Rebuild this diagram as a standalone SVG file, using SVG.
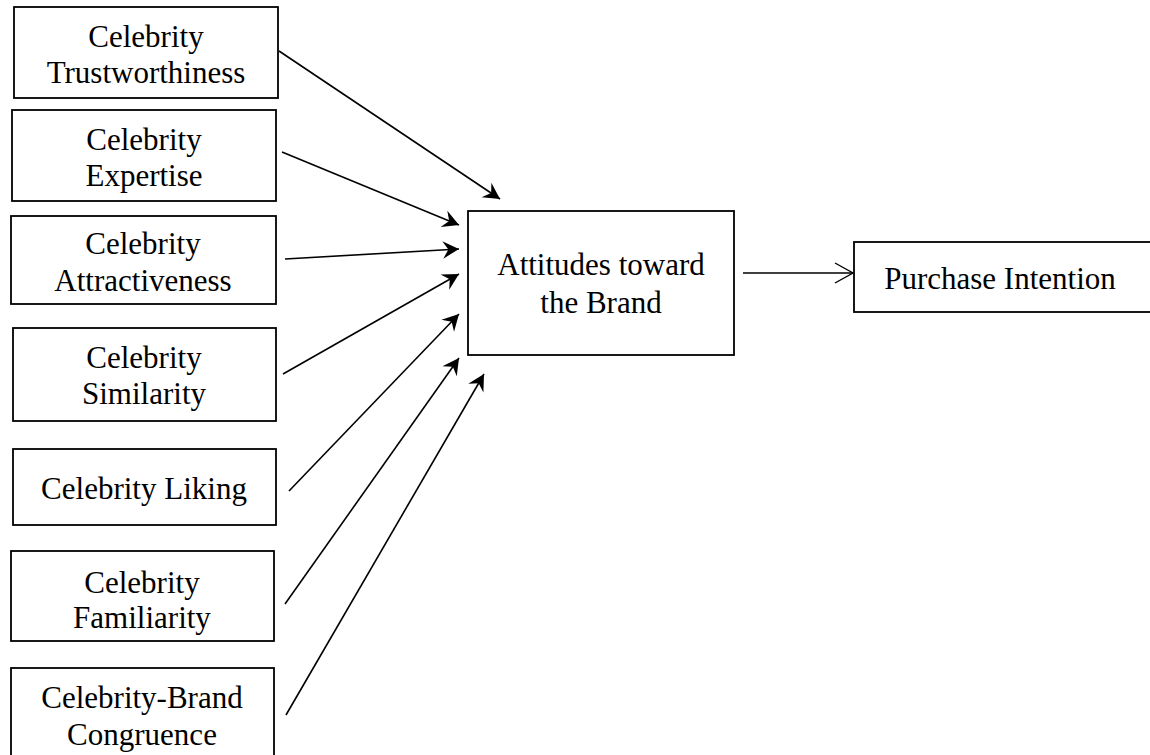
<svg xmlns="http://www.w3.org/2000/svg" width="1150" height="755" viewBox="0 0 1150 755">
<style>
.box{fill:#fff;stroke:#000;stroke-width:1.8}
.t{font-family:"Liberation Serif","Times New Roman",serif;font-size:31px;fill:#000;text-anchor:middle}
.c{stroke:#000;stroke-width:1.6;fill:none}
.thin{stroke:#000;stroke-width:1.4;fill:none}
</style>
<defs>
<marker id="ah" markerUnits="userSpaceOnUse" markerWidth="20" markerHeight="20" viewBox="-14 -8 16 16" refX="0" refY="0" orient="auto">
<path d="M0,0 L-13,-7 L-8.5,0 L-13,7 Z" fill="#000"/>
</marker>
<marker id="open" markerUnits="userSpaceOnUse" markerWidth="22" markerHeight="24" viewBox="-20 -12 22 24" refX="0" refY="0" orient="auto">
<path d="M-18,-10 L0,0 L-18,10" fill="none" stroke="#000" stroke-width="1.4"/>
</marker>
</defs>
<g id="connectors">
<line class="c" x1="279" y1="51" x2="500" y2="199" marker-end="url(#ah)"/>
<line class="c" x1="282" y1="152" x2="459" y2="225" marker-end="url(#ah)"/>
<line class="c" x1="285" y1="259" x2="459" y2="249" marker-end="url(#ah)"/>
<line class="c" x1="283" y1="374" x2="459" y2="274" marker-end="url(#ah)"/>
<line class="c" x1="289" y1="491" x2="459" y2="314" marker-end="url(#ah)"/>
<line class="c" x1="285" y1="604" x2="459" y2="358" marker-end="url(#ah)"/>
<line class="c" x1="286" y1="715" x2="484" y2="374" marker-end="url(#ah)"/>
<line class="thin" x1="743" y1="273" x2="853" y2="273" marker-end="url(#open)"/>
</g>
<g id="trustworthiness">
<rect class="box" x="14" y="7" width="264" height="91"/>
<text class="t" x="146" y="47">Celebrity</text>
<text class="t" x="146" y="83">Trustworthiness</text>
</g>
<g id="expertise">
<rect class="box" x="12" y="110" width="264" height="91"/>
<text class="t" x="144" y="150">Celebrity</text>
<text class="t" x="144" y="186">Expertise</text>
</g>
<g id="attractiveness">
<rect class="box" x="11" y="216" width="265" height="88"/>
<text class="t" x="143" y="254">Celebrity</text>
<text class="t" x="143" y="291">Attractiveness</text>
</g>
<g id="similarity">
<rect class="box" x="13" y="328" width="263" height="93"/>
<text class="t" x="144" y="368">Celebrity</text>
<text class="t" x="144" y="404">Similarity</text>
</g>
<g id="liking">
<rect class="box" x="13" y="449" width="263" height="76"/>
<text class="t" x="144" y="499">Celebrity Liking</text>
</g>
<g id="familiarity">
<rect class="box" x="11" y="551" width="263" height="90"/>
<text class="t" x="142" y="593">Celebrity</text>
<text class="t" x="142" y="628">Familiarity</text>
</g>
<g id="congruence">
<rect class="box" x="11" y="668" width="263" height="100"/>
<text class="t" x="142" y="708">Celebrity-Brand</text>
<text class="t" x="142" y="745">Congruence</text>
</g>
<g id="attitudes">
<rect class="box" x="468" y="211" width="266" height="144"/>
<text class="t" x="601" y="275">Attitudes toward</text>
<text class="t" x="601" y="313">the Brand</text>
</g>
<g id="purchase">
<rect class="box" x="854" y="242" width="310" height="70"/>
<text class="t" x="1000" y="289">Purchase Intention</text>
</g>
</svg>
